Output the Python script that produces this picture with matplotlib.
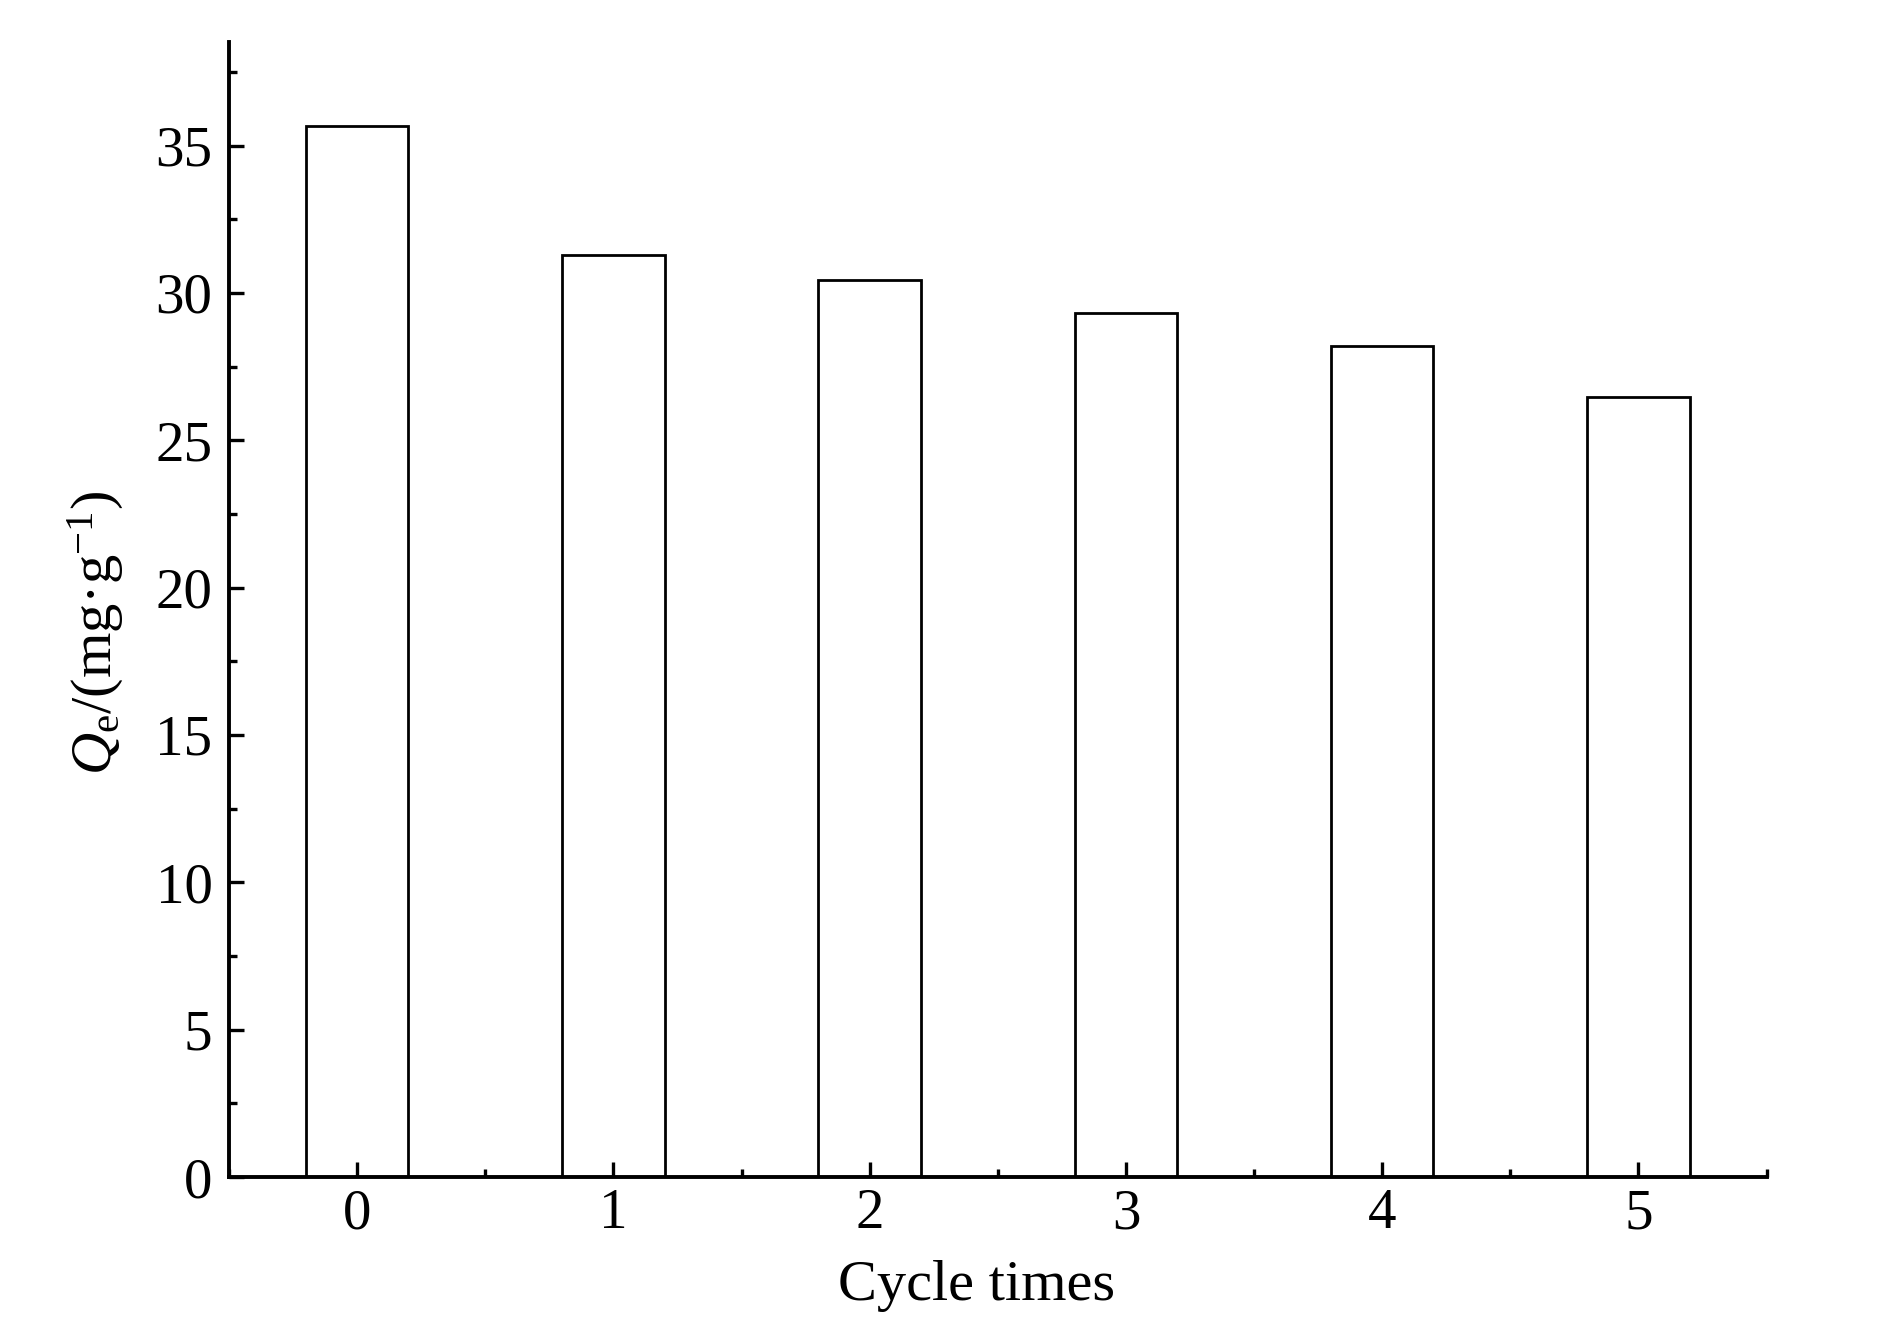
import matplotlib
matplotlib.use("Agg")
import matplotlib.pyplot as plt
from matplotlib.ticker import MultipleLocator

# data
cycles = [0, 1, 2, 3, 4, 5]
qe = [35.65, 31.28, 30.44, 29.33, 28.20, 26.48]
tick_labels = ["0", "1", "2", "3", "4", "5"]

plt.rcParams["font.family"] = ["Liberation Serif", "DejaVu Serif"]
plt.rcParams["mathtext.fontset"] = "custom"
plt.rcParams["mathtext.rm"] = "Liberation Serif"
plt.rcParams["mathtext.it"] = "Liberation Serif:italic"

fig = plt.figure(figsize=(18.87, 13.24), dpi=100)
ax = fig.add_axes([0.1214, 0.111, 0.8148, 0.857])

ax.bar(cycles, qe, width=0.4, facecolor="white", edgecolor="black",
       linewidth=2.0)

ax.set_xlim(-0.5, 5.5)
ax.set_ylim(0, 38.5)
ax.set_xticks(cycles)
ax.set_xticklabels(tick_labels)
ax.xaxis.set_minor_locator(MultipleLocator(0.5))
ax.yaxis.set_major_locator(MultipleLocator(5))
ax.yaxis.set_minor_locator(MultipleLocator(2.5))

for side in ("top", "right"):
    ax.spines[side].set_visible(False)
for side in ("left", "bottom"):
    ax.spines[side].set_linewidth(2.8)

ax.tick_params(which="major", direction="in", length=11, width=2.4,
               labelsize=41)
ax.tick_params(axis="x", which="major", pad=8)
ax.tick_params(axis="y", which="major", pad=12)
ax.tick_params(which="minor", direction="in", length=6, width=2.4)

ax.set_xlabel("Cycle times", fontsize=42)
ax.set_ylabel(r"$Q_{\mathrm{e}}$/(mg·g$^{-1}$)", fontsize=42)
ax.xaxis.set_label_coords(0.486, -0.073)
ax.yaxis.set_label_coords(-0.067, 0.48)

fig.savefig("out.png", dpi=100, facecolor="white")
